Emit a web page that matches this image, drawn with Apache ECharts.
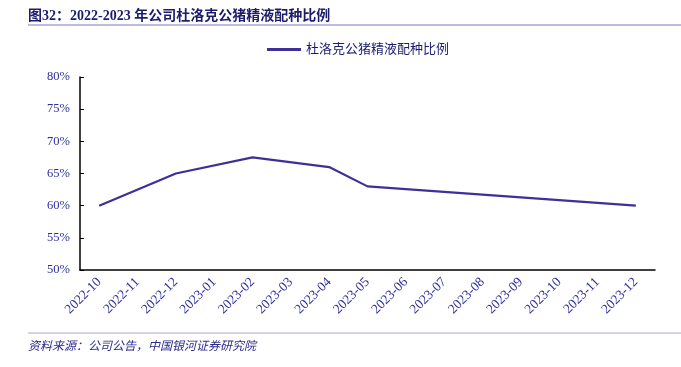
<!DOCTYPE html>
<html>
<head>
<meta charset="utf-8">
<script src="https://cdn.jsdelivr.net/npm/echarts@6/dist/echarts.min.js"></script>
<style>
  html, body { margin: 0; padding: 0; background: #fff; }
  #chart { width: 681px; height: 367px; }
</style>
</head>
<body>
<div id="chart"></div>
<script>
// 月份
var months = ['2022-10', '2022-11', '2022-12', '2023-01', '2023-02', '2023-03', '2023-04',
  '2023-05', '2023-06', '2023-07', '2023-08', '2023-09', '2023-10', '2023-11', '2023-12'];
// 杜洛克公猪精液配种比例（%），缺失月份为 null
var ratio = [60, null, 65, null, 67.5, null, 66, 63, null, null, null, null, null, null, 60];
var seriesName = '杜洛克公猪精液配种比例';

var serif = '"Times New Roman", "Liberation Serif", "Noto Sans CJK SC", serif';
var blue = '#2e2e9e';

var myChart = echarts.init(document.getElementById('chart'));

var option = {
  animation: false,
  title: [{
    text: '图32：2022-2023 年公司杜洛克公猪精液配种比例',
    left: 23,
    top: 4,
    textStyle: { fontFamily: serif, fontSize: 14, fontWeight: 'bold', color: '#1c1c6e' }
  }, {
    text: '资料来源：公司公告，中国银河证券研究院',
    left: 23,
    top: 336,
    textStyle: { fontFamily: serif, fontSize: 12, fontStyle: 'italic', fontWeight: 'normal', color: '#2a2a88' }
  }],
  graphic: [
    { type: 'line', shape: { x1: 28, y1: 25, x2: 681, y2: 25 }, style: { stroke: '#a9a6d6', lineWidth: 1.5 } },
    { type: 'line', shape: { x1: 28, y1: 333, x2: 681, y2: 333 }, style: { stroke: '#a9a6d6', lineWidth: 1 } }
  ],
  legend: {
    data: [seriesName],
    top: 38,
    left: 262,
    itemWidth: 34,
    itemHeight: 3,
    itemGap: 6,
    icon: 'rect',
    textStyle: { fontFamily: serif, fontSize: 13, color: '#1c1c6e' }
  },
  grid: { left: 80, right: 26, top: 77, bottom: 97 },
  xAxis: {
    type: 'category',
    data: months,
    boundaryGap: true,
    axisLine: { lineStyle: { color: '#000', width: 1.5 } },
    axisTick: { inside: true, length: 4, lineStyle: { color: '#000' } },
    axisLabel: {
      rotate: 45,
      interval: 0,
      margin: 10,
      fontFamily: serif,
      fontSize: 13.5,
      color: blue
    }
  },
  yAxis: {
    type: 'value',
    min: 50,
    max: 80,
    interval: 5,
    splitLine: { show: false },
    axisLine: { show: true, lineStyle: { color: '#000', width: 1.5 } },
    axisTick: { show: true, inside: true, length: 4, lineStyle: { color: '#000' } },
    axisLabel: {
      formatter: '{value}%',
      margin: 10,
      fontFamily: serif,
      fontSize: 12.5,
      color: blue
    }
  },
  series: [{
    name: seriesName,
    type: 'line',
    data: ratio,
    connectNulls: true,
    showSymbol: false,
    symbol: 'none',
    color: '#3f2f97',
    lineStyle: { width: 2.2, color: '#3f2f97' }
  }]
};

myChart.setOption(option);
</script>
</body>
</html>
